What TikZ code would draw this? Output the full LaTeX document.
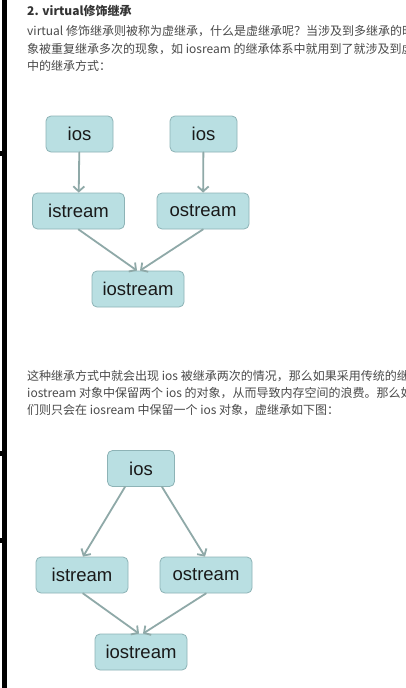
\documentclass[tikz,border=0pt]{standalone}
\usepackage{fontspec}
\setmainfont{Liberation Sans}
\newfontfamily\cjk{Noto Sans CJK SC}
\usetikzlibrary{arrows.meta}
\definecolor{boxfill}{HTML}{B9DFE2}
\definecolor{boxline}{HTML}{8DB3B6}
\definecolor{linkc}{HTML}{8FA9A8}
\definecolor{bodytext}{HTML}{4A4A4A}
\definecolor{titletext}{HTML}{333333}
\begin{document}
\begin{tikzpicture}[x=1pt, y=-1pt, line join=round, line cap=round,
		>={Straight Barb[length=5pt,width=11pt]},
		para/.style={anchor=base west, inner sep=0, text=bodytext, font=\cjk\fontsize{12}{14}\selectfont},
		head/.style={para, text=titletext, font=\cjk\bfseries\fontsize{12}{14}\selectfont},
		box/.style={draw=boxline, fill=boxfill, line width=0.8pt, rounded corners=5pt, minimum width=92pt, minimum height=36pt, inner sep=0, text=black!90, font=\fontsize{18.5}{20}\selectfont},
		small/.style={minimum width=67pt},
		link/.style={->, draw=linkc, line width=1.8pt}]
				\useasboundingbox (0,0) rectangle (406,688);
				\fill[white] (0,0) rectangle (406,688);
				\clip (0,0) rectangle (406,688);
				\fill[black] (2,0) rectangle (7,688);
				\fill[black] (0,151) rectangle (7,156);
				\fill[black] (0,451) rectangle (7,456);
				\fill[black] (0,538) rectangle (7,543);
				\node[head] (title) at (27,16) {2. virtual修饰继承};
				\node[para] (lineA) at (27,35) {virtual 修饰继承则被称为虚继承，什么是虚继承呢？当涉及到多继承的时候};
				\node[para] (lineB) at (27,53) {象被重复继承多次的现象，如 iosream 的继承体系中就用到了就涉及到虚继承};
				\node[para] (lineC) at (27,70) {中的继承方式：};
				\node[box, small] (iosA) at (79.5,134) {ios};
				\node[box, small] (iosB) at (203.5,134) {ios};
				\node[box] (istrA) at (78.5,211) {istream};
				\node[box] (ostrA) at (203,211) {ostream};
				\node[box] (iostrA) at (138,289) {iostream};
				\draw[link] (iosA) -- (istrA);
				\draw[link] (iosB) -- (ostrA);
				\draw[link] (istrA.south) -- ([xshift=-1pt]iostrA.north);
				\draw[link] (ostrA.south) -- ([xshift=2pt]iostrA.north);
				\node[para] (lineD) at (27,380) {这种继承方式中就会出现 ios 被继承两次的情况，那么如果采用传统的继承};
				\node[para] (lineE) at (27,397) {iostream 对象中保留两个 ios 的对象，从而导致内存空间的浪费。那么如果};
				\node[para] (lineF) at (27,414) {们则只会在 iosream 中保留一个 ios 对象，虚继承如下图：};
				\node[box, small] (iosC) at (141,468.5) {ios};
				\node[box] (istrC) at (82,575) {istream};
				\node[box] (ostrC) at (206,575) {ostream};
				\node[box] (iostrC) at (141,652) {iostream};
				\draw[link] ([xshift=-16pt]iosC.south) -- ([xshift=1pt]istrC.north);
				\draw[link] ([xshift=21pt]iosC.south) -- ([xshift=-1pt]ostrC.north);
				\draw[link] ([xshift=1pt]istrC.south) -- ([xshift=-2pt]iostrC.north);
				\draw[link] (ostrC.south) -- ([xshift=2pt]iostrC.north);
		\end{tikzpicture}
\end{document}
